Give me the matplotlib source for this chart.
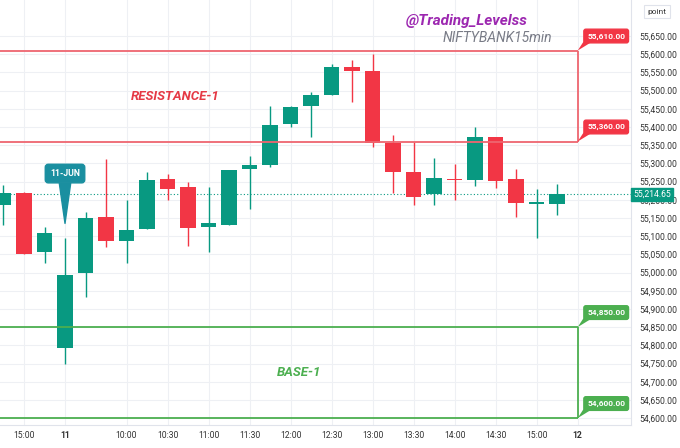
import matplotlib
matplotlib.use("Agg")
import matplotlib.pyplot as plt
import matplotlib.transforms as mtransforms
from matplotlib.ticker import FuncFormatter
import numpy as np

plt.rcParams['font.family'] = ['Roboto', 'DejaVu Sans']

# ---------------- data ----------------
times = ["14:45", "15:00", "15:15", "09:15", "09:30", "09:45", "10:00", "10:15",
         "10:30", "10:45", "11:00", "11:15", "11:30", "11:45", "12:00", "12:15",
         "12:30", "12:45", "13:00", "13:15", "13:30", "13:45", "14:00", "14:15",
         "14:30", "14:45", "15:00", "15:15"]
opens = [55186, 55218, 55056, 54792, 54998, 55152, 55086, 55120, 55256, 55236,
         55124, 55132, 55284, 55296, 55408, 55458, 55489, 55565, 55555, 55355,
         55275, 55215, 55258, 55254, 55373, 55258, 55189, 55188]
highs = [55240, 55222, 55124, 55094, 55166, 55311, 55199, 55277, 55271, 55248,
         55234, 55282, 55320, 55458, 55458, 55496, 55573, 55584, 55600, 55377,
         55359, 55316, 55297, 55401, 55373, 55284, 55229, 55242]
lows = [55131, 55050, 55025, 54750, 54932, 55069, 55027, 55120, 55199, 55074,
        55057, 55132, 55174, 55289, 55401, 55373, 55488, 55469, 55344, 55219,
        55186, 55186, 55199, 55239, 55232, 55153, 55096, 55159]
closes = [55218, 55051, 55108, 54993, 55150, 55087, 55118, 55254, 55230, 55122,
          55135, 55282, 55295, 55406, 55455, 55487, 55564, 55555, 55357, 55275,
          55208, 55259, 55255, 55372, 55252, 55190, 55193, 55214.65]

last_price = 55214.65
resistance = [55610, 55360]
base = [54850, 54600]

xtick_pos = [1, 3, 6, 8, 10, 12, 14, 16, 18, 20, 22, 24, 26, 28]
xtick_labels = ["15:00", "11", "10:00", "10:30", "11:00", "11:30", "12:00",
                "12:30", "13:00", "13:30", "14:00", "14:30", "15:00", "12"]
ytick_vals = list(range(54600, 55651, 50))

# ---------------- style ----------------
GREEN = '#089981'
RED = '#f23645'
RES_COL = '#ee6670'
BASE_COL = '#4caf50'
GRID = '#eef0f4'

fig = plt.figure(figsize=(6.8, 4.48), dpi=100)
ax = fig.add_axes([0, 23 / 448, 631 / 680, 1 - 23 / 448])
ax.set_xlim(-0.17, 30.6)
ax.set_ylim(54581, 55749)

# grid
ax.set_yticks(ytick_vals)
ax.set_xticks(xtick_pos)
ax.grid(True, color=GRID, lw=0.8)
ax.set_axisbelow(True)

# candles
x = np.arange(len(opens))
for i in x:
    o, h, l, c = opens[i], highs[i], lows[i], closes[i]
    col = GREEN if c >= o else RED
    ax.vlines(i, l, h, color=col, lw=1.0, zorder=2)
    bh = max(abs(c - o), 3.0)
    ax.bar(i, bh, bottom=min(o, c), width=0.75, color=col, zorder=3, lw=0)

# last price dotted line
ax.axhline(last_price, color=GREEN, lw=0.8, ls=(0, (1, 2)), zorder=1)

# resistance / base boxes
end_idx = 28
for lvl, col in [(resistance, RES_COL), (base, BASE_COL)]:
    for p in lvl:
        ax.hlines(p, -1, end_idx, color=col, lw=1.3, zorder=4)
    ax.vlines(end_idx, lvl[1], lvl[0], color=col, lw=1.3, zorder=4)

label_fill = {'res': '#f23645', 'base': '#4caf50'}
for lvl, fc in [(resistance, label_fill['res']), (base, label_fill['base'])]:
    for p in lvl:
        ax.text(29.39, p + 40, f"{p:,.2f}", ha='center', va='center', fontsize=6,
                color='white', fontweight='bold', zorder=7, clip_on=False,
                bbox=dict(boxstyle='round,pad=0.4,rounding_size=0.25', fc=fc, ec=fc))
        ax.fill([end_idx, end_idx + 0.3, end_idx + 0.75],
                [p, p + 26, p + 26], color=fc, zorder=6, clip_on=False, lw=0)

# 11-JUN callout
CALL = '#1a8fa0'
ax.annotate("11-JUN", xy=(3, 55135), xytext=(3, 55272), ha='center', va='center',
            fontsize=6.3, color='white', fontweight='bold', zorder=7,
            bbox=dict(boxstyle='round,pad=0.55,rounding_size=0.35', fc=CALL, ec=CALL),
            arrowprops=dict(arrowstyle='wedge,tail_width=1.3,shrink_factor=0.5',
                            fc=CALL, ec=CALL, shrinkA=0, shrinkB=0))

# texts
ax.text(8.39, 55483, "RESISTANCE-1", color='#e53945', fontsize=9.5,
        fontweight='bold', fontstyle='italic', ha='center', va='center', zorder=5)
ax.text(14.41, 54726, "BASE-1", color=BASE_COL, fontsize=9.5,
        fontweight='bold', fontstyle='italic', ha='center', va='center', zorder=5)
ax.text(0.740, 0.951, "@Trading_Levelss", transform=ax.transAxes, color='#9c27b0',
        fontsize=11, fontweight='bold', fontstyle='italic', ha='center', va='center')
ax.text(0.788, 0.910, "NIFTYBANK15min", transform=ax.transAxes, color='#787b86',
        fontsize=10, fontstyle='italic', ha='center', va='center')

# axes styling
ax.yaxis.tick_right()
ax.yaxis.set_major_formatter(FuncFormatter(lambda v, p: f"{v:,.2f}"))
ax.tick_params(axis='y', length=0, pad=6, labelsize=6.2, labelcolor='#333333')
ax.set_xticklabels(xtick_labels)
ax.tick_params(axis='x', length=0, pad=4, labelsize=6.2, labelcolor='#333333')
for t in ax.get_xticklabels():
    if t.get_text() in ("11", "12"):
        t.set_fontweight('bold')
for s in ['left', 'top']:
    ax.spines[s].set_visible(False)
for s in ['right', 'bottom']:
    ax.spines[s].set_color('#e0e3eb')
    ax.spines[s].set_linewidth(0.8)

# last price label on axis
blend = mtransforms.blended_transform_factory(ax.transAxes, ax.transData)
ax.text(652 / 631, last_price, f"{last_price:,.2f}", transform=blend, ha='center',
        va='center', fontsize=6.2, color='white', zorder=8,
        bbox=dict(boxstyle='square,pad=0.25', fc=GREEN, ec=GREEN), clip_on=False)

# "point" box
ax.text(657 / 631, 1 - 11.7 / 425, "point", transform=ax.transAxes, ha='center',
        va='center', fontsize=6, color='#333333', clip_on=False,
        bbox=dict(boxstyle='square,pad=0.4', fc='white', ec='#e0e3eb', lw=0.8))

fig.savefig("out.png", dpi=100)
